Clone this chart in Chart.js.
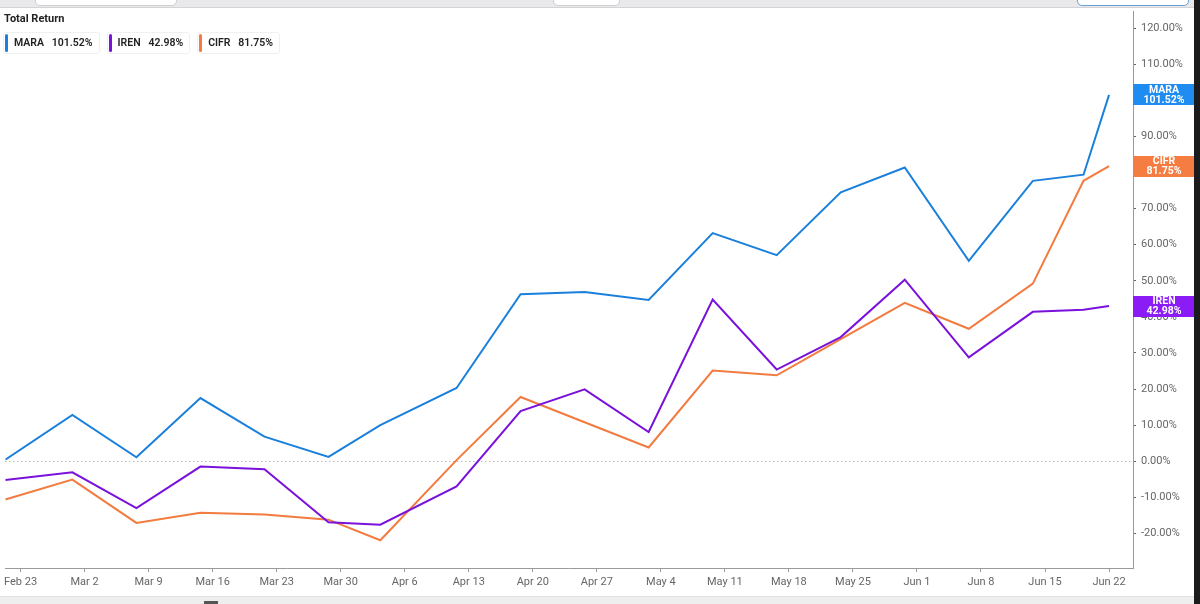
<!DOCTYPE html>
<html>
<head>
<meta charset="utf-8">
<script src="https://cdn.jsdelivr.net/npm/chart.js@4.4.1/dist/chart.umd.min.js"></script>
<style>
  html, body { margin: 0; padding: 0; background: #fff; }
  body { width: 1200px; height: 604px; position: relative; overflow: hidden; font-family: Roboto, "Open Sans", Arial, sans-serif; }
  #wrap { position: absolute; left: 0; top: 0; width: 1200px; height: 604px; }
  .topband { position: absolute; left: 0; top: 0; width: 1200px; height: 7px; background: #e9e9eb; border-bottom: 1px solid #d4d4d6; }
  .tbox { position: absolute; top: -6px; height: 10px; background: #fff; border: 1px solid #cfcfd2; border-radius: 0 0 5px 5px; }
  .bottomband { position: absolute; left: 0; top: 596px; width: 1200px; height: 8px; background: #eeeeef; border-top: 1px solid #e2e2e4; }
  .bmark { position: absolute; left: 204px; top: 601px; width: 14px; height: 3px; background: #555; }
  .rightband { position: absolute; left: 1194px; top: 0; width: 6px; height: 604px; background: #1b1b1d; }
  #title { position: absolute; left: 4px; top: 12px; font-size: 11px; font-weight: 700; color: #222; }
  #legend { position: absolute; left: 3px; top: 32px; display: flex; gap: 7px; }
  .item { position: relative; height: 20px; padding: 0 6px 0 10px; border: 1px solid #f0f0f0; border-radius: 3px; font-size: 10.5px; font-weight: 600; color: #222; line-height: 20px; white-space: pre; }
  .item .bar { position: absolute; left: 1px; top: 1px; width: 3px; height: 18px; border-radius: 2px; }
</style>
</head>
<body>
<div id="wrap"><canvas id="c" width="1200" height="604"></canvas></div>
<div class="topband"></div>
<div class="tbox" style="left:35px;width:140px"></div>
<div class="tbox" style="left:553px;width:65px"></div>
<div class="tbox" style="left:1077px;width:110px;border-color:#6aa0d8"></div>
<div id="title">Total Return</div>
<div id="legend"></div>
<div class="bottomband"></div>
<div class="bmark"></div>
<div class="rightband"></div>
<script>
// ---- data ----
const seriesNames = ['MARA', 'IREN', 'CIFR'];
const seriesColors = ['#1a80dc', '#7a12dc', '#f27b3f'];
const labelColors = ['#1f8cf2', '#8c1cf5', '#f57d42'];

const pointDates = [
  '2025-02-21T08:00', '2025-02-28T16:00', '2025-03-07T16:00', '2025-03-14T16:00',
  '2025-03-21T16:00', '2025-03-28T16:00', '2025-04-03T08:00', '2025-04-11T16:00',
  '2025-04-18T16:00', '2025-04-25T16:00', '2025-05-02T16:00', '2025-05-09T16:00',
  '2025-05-16T16:00', '2025-05-23T16:00', '2025-05-30T16:00', '2025-06-06T16:00',
  '2025-06-13T16:00', '2025-06-19T05:00', '2025-06-22T00:00'
];

const mara = [0.4, 12.8, 1.1, 17.5, 6.8, 1.2, 10.0, 20.3, 46.3, 46.9, 44.7, 63.2, 57.1, 74.5, 81.4, 55.5, 77.7, 79.4, 101.52];
const iren = [-5.2, -3.1, -13.0, -1.5, -2.2, -16.9, -17.6, -7.0, 13.9, 19.9, 8.1, 44.8, 25.4, 34.4, 50.3, 28.8, 41.4, 42.0, 42.98];
const cifr = [-10.6, -5.1, -17.1, -14.3, -14.8, -16.2, -21.9, 0.3, 17.8, 10.8, 3.8, 25.1, 23.8, 33.8, 43.9, 36.7, 49.2, 77.7, 81.75];

const tickDates = ['2025-02-23','2025-03-02','2025-03-09','2025-03-16','2025-03-23','2025-03-30','2025-04-06','2025-04-13','2025-04-20','2025-04-27','2025-05-04','2025-05-11','2025-05-18','2025-05-25','2025-06-01','2025-06-08','2025-06-15','2025-06-22'];
const tickLabels = ['Feb 23','Mar 2','Mar 9','Mar 16','Mar 23','Mar 30','Apr 6','Apr 13','Apr 20','Apr 27','May 4','May 11','May 18','May 25','Jun 1','Jun 8','Jun 15','Jun 22'];
const yTickValues = [-20, -10, 0, 10, 20, 30, 40, 50, 60, 70, 80, 90, 100, 110, 120];

const xMinDate = '2025-02-21T08:00';
const xMaxDate = '2025-06-24T14:50';
const yMin = -29.6, yMax = 124.6;

// ---- helpers ----
const dayMs = 86400000;
const origin = Date.parse('2025-02-23T00:00Z');
const toDay = s => (Date.parse(s + (s.length > 10 ? 'Z' : 'T00:00Z')) - origin) / dayMs;
const allSeries = [mara, iren, cifr];
const fmtPct = v => v.toFixed(2) + '%';

// legend (HTML)
const legend = document.getElementById('legend');
seriesNames.forEach((n, i) => {
  const d = document.createElement('div');
  d.className = 'item';
  const vals = allSeries[i];
  d.innerHTML = '<span class="bar" style="background:' + seriesColors[i] + '"></span>' + n + '   ' + fmtPct(vals[vals.length - 1]);
  legend.appendChild(d);
});

const tickDayValues = tickDates.map(toDay);

const zeroLine = {
  id: 'zeroLine',
  beforeDatasetsDraw(chart) {
    const { ctx, chartArea, scales } = chart;
    const y = Math.round(scales.y.getPixelForValue(0)) + 0.5;
    ctx.save();
    ctx.strokeStyle = '#9a9a9a';
    ctx.lineWidth = 1;
    ctx.setLineDash([1, 3]);
    ctx.beginPath();
    ctx.moveTo(chartArea.left, y);
    ctx.lineTo(chartArea.right, y);
    ctx.stroke();
    ctx.restore();
  }
};

const endLabels = {
  id: 'endLabels',
  afterDraw(chart) {
    const { ctx, chartArea, scales } = chart;
    ctx.save();
    allSeries.forEach((vals, i) => {
      const v = vals[vals.length - 1];
      const y = scales.y.getPixelForValue(v);
      const x0 = chartArea.right, w = 62, h = 21;
      ctx.fillStyle = labelColors[i];
      ctx.fillRect(x0, Math.round(y - h / 2), w, h);
      ctx.fillStyle = '#fff';
      ctx.font = '700 10.5px Roboto, Arial, sans-serif';
      ctx.textAlign = 'center';
      ctx.textBaseline = 'middle';
      ctx.fillText(seriesNames[i], x0 + w / 2, y - 5);
      ctx.fillText(fmtPct(v), x0 + w / 2, y + 5);
    });
    ctx.restore();
  }
};

new Chart(document.getElementById('c'), {
  type: 'line',
  data: {
    datasets: allSeries.map((vals, i) => ({
      label: seriesNames[i],
      data: vals.map((v, k) => ({ x: toDay(pointDates[k]), y: v })),
      borderColor: seriesColors[i],
      borderWidth: 2,
      pointRadius: 0,
      tension: 0,
      fill: false
    }))
  },
  options: {
    responsive: false,
    animation: false,
    devicePixelRatio: 1,
    layout: { padding: { left: 0, top: 8, right: 0, bottom: 0 } },
    plugins: { legend: { display: false }, tooltip: { enabled: false } },
    scales: {
      x: {
        type: 'linear',
        min: toDay(xMinDate),
        max: toDay(xMaxDate),
        afterBuildTicks(scale) { scale.ticks = tickDayValues.map(v => ({ value: v })); },
        afterFit(scale) { scale.height = 36; },
        grid: { drawOnChartArea: false, drawTicks: true, tickLength: 4, tickColor: '#999' },
        border: { display: true, color: '#9a9a9a', width: 1 },
        ticks: {
          autoSkip: false, maxRotation: 0, padding: 4,
          color: '#666', font: { family: 'Roboto, Arial, sans-serif', size: 11 },
          callback(v) { const i = tickDayValues.indexOf(v); return i >= 0 ? tickLabels[i] : ''; }
        }
      },
      y: {
        type: 'linear',
        position: 'right',
        min: yMin,
        max: yMax,
        afterBuildTicks(scale) { scale.ticks = yTickValues.map(v => ({ value: v })); },
        afterFit(scale) { scale.width = 67; },
        grid: { drawOnChartArea: false, drawTicks: true, tickLength: 3, tickColor: '#666' },
        border: { display: true, color: '#9a9a9a', width: 1 },
        ticks: {
          padding: 5, color: '#666',
          font: { family: 'Roboto, Arial, sans-serif', size: 11 },
          callback(v) { return fmtPct(v); }
        }
      }
    }
  },
  plugins: [zeroLine, endLabels]
});
</script>
</body>
</html>
